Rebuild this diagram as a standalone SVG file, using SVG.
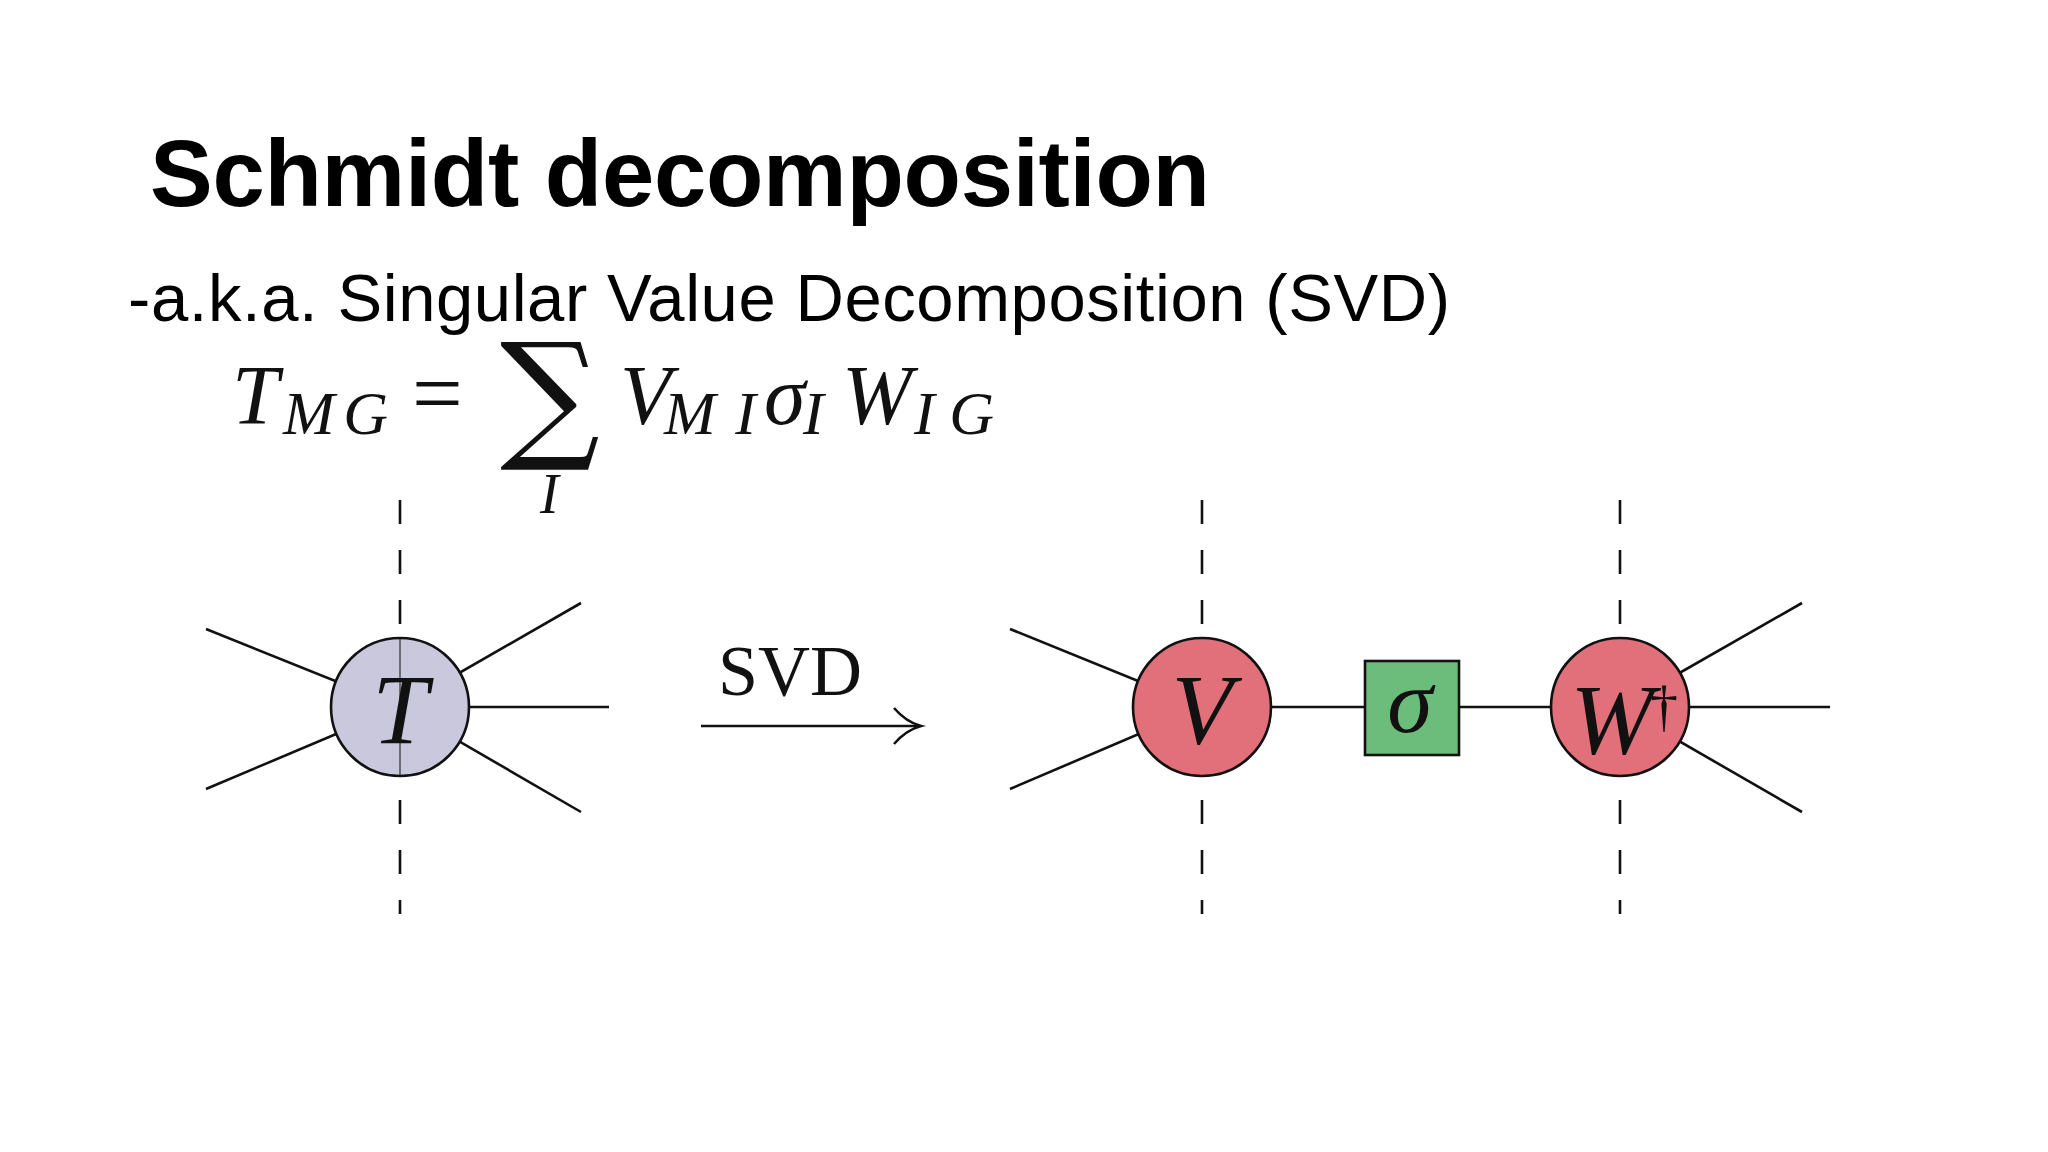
<svg xmlns="http://www.w3.org/2000/svg" width="2048" height="1152" viewBox="0 0 2048 1152">
<style>
.leg{stroke:#111;stroke-width:2.6;fill:none}
.dash{stroke:#111;stroke-width:2.6;stroke-dasharray:24 26;fill:none}
.m{font-family:"Liberation Serif",serif;font-style:italic;fill:#111}
.r{font-family:"Liberation Serif",serif;fill:#111}
</style>
<rect width="2048" height="1152" fill="#fff"/>
<text x="150" y="206" font-family="Liberation Sans,Arial,sans-serif" font-weight="bold" font-size="94" textLength="1060">Schmidt decomposition</text>
<text x="128" y="321" font-family="Liberation Sans,Arial,sans-serif" font-size="67" textLength="1322">-a.k.a. Singular Value Decomposition (SVD)</text>
<g id="formula">
<text class="m" x="232" y="424" font-size="84">T</text>
<text class="m" x="283" y="434" font-size="62" textLength="105">MG</text>
<text class="r" x="412" y="424" font-size="90">=</text>
<text x="500" y="443" font-family="DejaVu Serif,serif" font-size="140" textLength="104" fill="#111">∑</text>
<text class="m" x="540" y="513" font-size="56">I</text>
<text class="m" x="620" y="424" font-size="84">V</text>
<text class="m" x="664" y="434" font-size="62" textLength="92">MI</text>
<text class="m" x="764" y="424" font-size="84">σ</text>
<text class="m" x="803" y="434" font-size="62">I</text>
<text class="m" x="842" y="424" font-size="84">W</text>
<text class="m" x="914" y="434" font-size="62" textLength="80">IG</text>
</g>
<g id="connectors">
<line class="dash" x1="400" y1="500" x2="400" y2="914"/>
<line class="dash" x1="1202" y1="500" x2="1202" y2="914"/>
<line class="dash" x1="1620" y1="500" x2="1620" y2="914"/>
<line class="leg" x1="206" y1="629" x2="400" y2="707"/>
<line class="leg" x1="206" y1="789" x2="400" y2="707"/>
<line class="leg" x1="581" y1="603" x2="400" y2="707"/>
<line class="leg" x1="609" y1="707" x2="400" y2="707"/>
<line class="leg" x1="581" y1="812" x2="400" y2="707"/>
<line class="leg" x1="1010" y1="629" x2="1202" y2="707"/>
<line class="leg" x1="1010" y1="789" x2="1202" y2="707"/>
<line class="leg" x1="1202" y1="707" x2="1620" y2="707"/>
<line class="leg" x1="1802" y1="603" x2="1620" y2="707"/>
<line class="leg" x1="1830" y1="707" x2="1620" y2="707"/>
<line class="leg" x1="1802" y1="812" x2="1620" y2="707"/>
<line class="leg" x1="701" y1="726" x2="919" y2="726"/>
<path class="leg" d="M894 708 Q906 722 921 726 Q906 730 894 744"/>
<text class="r" x="718" y="695" font-size="72">SVD</text>
</g>
<g id="T">
<circle cx="400" cy="707" r="69" fill="#c9c8dd" stroke="#111" stroke-width="2.6"/>
<line x1="400" y1="638" x2="400" y2="776" stroke="#111" stroke-width="2" opacity=".5"/>
<text class="m" x="400" y="743" font-size="100" text-anchor="middle">T</text>
</g>
<g id="V">
<circle cx="1202" cy="707" r="69" fill="#e2707a" stroke="#111" stroke-width="2.6"/>
<text class="m" x="1202" y="743" font-size="100" text-anchor="middle">V</text>
</g>
<g id="sigma">
<rect x="1365" y="661" width="94" height="94" fill="#6cbd7c" stroke="#111" stroke-width="2.6"/>
<text class="m" x="1410" y="732" font-size="92" text-anchor="middle">σ</text>
</g>
<g id="W">
<circle cx="1620" cy="707" r="69" fill="#e2707a" stroke="#111" stroke-width="2.6"/>
<text class="m" x="1612" y="753" font-size="100" text-anchor="middle">W</text>
<text class="r" x="1664" y="725" font-size="56" text-anchor="middle">†</text>
</g>
</svg>
